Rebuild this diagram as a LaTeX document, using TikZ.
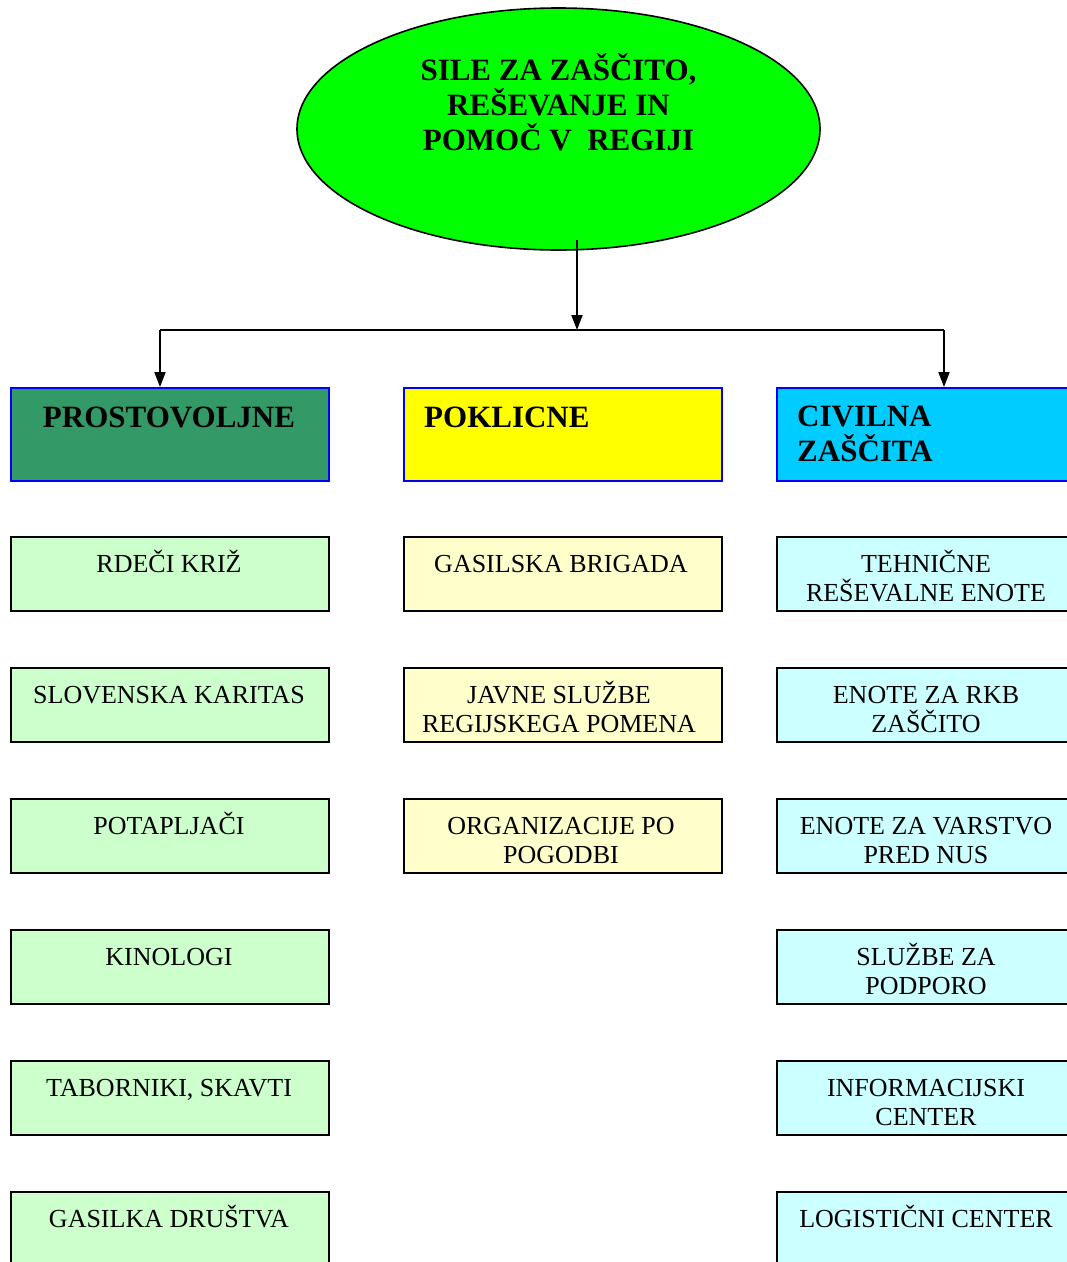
\documentclass[tikz,border=0pt]{standalone}
\usepackage{fontspec}
\setmainfont{Liberation Serif}
\usetikzlibrary{arrows.meta,shapes.geometric}
\definecolor{elgreen}{HTML}{00FF00}
\definecolor{hgreen}{HTML}{339966}
\definecolor{hyellow}{HTML}{FFFF00}
\definecolor{hcyan}{HTML}{00CCFF}
\definecolor{sgreen}{HTML}{CCFFCC}
\definecolor{syellow}{HTML}{FFFFCC}
\definecolor{scyan}{HTML}{CCFFFF}
\definecolor{hblue}{HTML}{0000FF}
\newcommand{\mlc}[1]{\vtop{\halign{\hfil##\hfil\cr#1\crcr}}}
\newcommand{\mll}[1]{\vtop{\halign{##\hfil\cr#1\crcr}}}
\tikzset{
  conn/.style={line width=1.9pt, draw=black},
  arr/.style={conn, -{Triangle[length=15pt,width=11pt]}},
  head/.style={rectangle, draw=hblue, line width=2pt, minimum width=318pt, minimum height=93pt, anchor=north west, inner sep=0pt},
  sub/.style={rectangle, draw=black, line width=1.8pt, minimum width=318pt, minimum height=74pt, anchor=north west, inner sep=0pt},
  htext/.style={inner sep=0pt, font=\fontsize{31}{35.5}\selectfont\bfseries},
  stext/.style={inner sep=0pt, anchor=base, font=\fontsize{26}{29.5}\selectfont},
}
\begin{document}
\begin{tikzpicture}[x=1pt,y=-1pt]
\useasboundingbox (0,0) rectangle (1067,1262);
% top ellipse
\node[ellipse, draw=black, line width=1.6pt, fill=elgreen, minimum width=523pt, minimum height=242pt, inner sep=0pt] (top) at (558.5,129) {};
\node[htext, anchor=base, font=\fontsize{31}{35}\selectfont\bfseries] (toptxt) at (558.5,80) {\mlc{SILE ZA ZAŠČITO,\cr REŠEVANJE IN\cr POMOČ V\ \ REGIJI}};
% connectors
\coordinate (ebot) at (577,240);
\coordinate (split) at (577,330);
\coordinate (hl) at (160,330);
\coordinate (hr) at (944,330);
% headers
\node[head, fill=hgreen] (h1) at (10,387) {};
\node[head, fill=hyellow] (h2) at (403,387) {};
\node[head, fill=hcyan] (h3) at (776,387) {};
\node[htext, anchor=base] (h1t) at (169,427) {PROSTOVOLJNE};
\node[htext, anchor=base west] (h2t) at (424,427) {POKLICNE};
\node[htext, anchor=base west] (h3t) at (797,426) {\mll{CIVILNA\cr ZAŠČITA}};
\draw[arr] (ebot) -- (split);
\draw[conn] (hl) -- (hr);
\draw[arr] (hl) -- (hl |- h1.north);
\draw[arr] (hr) -- (hr |- h3.north);
% left column
\node[sub, fill=sgreen] (l1) at (10,536) {};
\node[sub, fill=sgreen] (l2) at (10,667) {};
\node[sub, fill=sgreen] (l3) at (10,798) {};
\node[sub, fill=sgreen] (l4) at (10,929) {};
\node[sub, fill=sgreen] (l5) at (10,1060) {};
\node[sub, fill=sgreen] (l6) at (10,1191) {};
\node[stext] (l1t) at (169,572) {RDEČI KRIŽ};
\node[stext] (l2t) at (169,703) {SLOVENSKA KARITAS};
\node[stext] (l3t) at (169,834) {POTAPLJAČI};
\node[stext] (l4t) at (169,965) {KINOLOGI};
\node[stext] (l5t) at (169,1096) {TABORNIKI, SKAVTI};
\node[stext] (l6t) at (169,1227) {GASILKA DRUŠTVA};
% middle column
\node[sub, fill=syellow] (m1) at (403,536) {};
\node[sub, fill=syellow] (m2) at (403,667) {};
\node[sub, fill=syellow] (m3) at (403,798) {};
\node[stext] (m1t) at (561,572) {GASILSKA BRIGADA};
\node[stext] (m2t) at (559,703) {\mlc{JAVNE SLUŽBE\cr REGIJSKEGA POMENA}};
\node[stext] (m3t) at (561,834) {\mlc{ORGANIZACIJE PO\cr POGODBI}};
% right column
\node[sub, fill=scyan] (r1) at (776,536) {};
\node[sub, fill=scyan] (r2) at (776,667) {};
\node[sub, fill=scyan] (r3) at (776,798) {};
\node[sub, fill=scyan] (r4) at (776,929) {};
\node[sub, fill=scyan] (r5) at (776,1060) {};
\node[sub, fill=scyan] (r6) at (776,1191) {};
\node[stext] (r1t) at (926,572) {\mlc{TEHNIČNE\cr REŠEVALNE ENOTE}};
\node[stext] (r2t) at (926,703) {\mlc{ENOTE ZA RKB\cr ZAŠČITO}};
\node[stext] (r3t) at (926,834) {\mlc{ENOTE ZA VARSTVO\cr PRED NUS}};
\node[stext] (r4t) at (926,965) {\mlc{SLUŽBE ZA\cr PODPORO}};
\node[stext] (r5t) at (926,1096) {\mlc{INFORMACIJSKI\cr CENTER}};
\node[stext] (r6t) at (926,1227) {LOGISTIČNI CENTER};
\end{tikzpicture}
\end{document}
